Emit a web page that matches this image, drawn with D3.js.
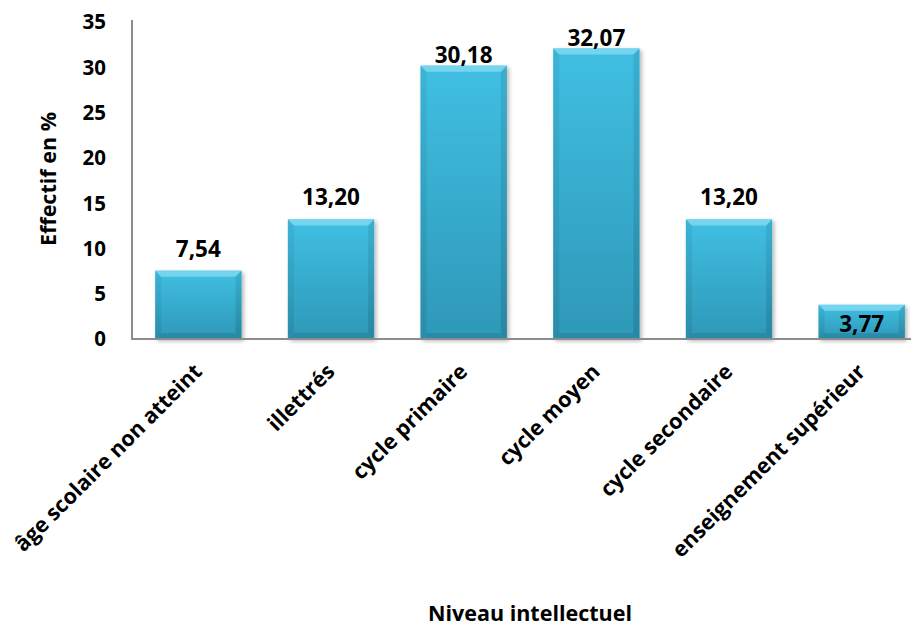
<!DOCTYPE html>
<html>
<head>
<meta charset="utf-8">
<script src="https://cdn.jsdelivr.net/npm/d3@7/dist/d3.min.js"></script>
<style>
  html, body { margin: 0; padding: 0; background: #fff; }
  svg { display: block; font-family: "Open Sans", sans-serif; font-weight: bold; }
</style>
</head>
<body>
<svg id="chart" width="914" height="626"></svg>
<script>
// Niveau intellectuel — effectif en %
const categories = [
  "âge scolaire non atteint",
  "illettrés",
  "cycle primaire",
  "cycle moyen",
  "cycle secondaire",
  "enseignement supérieur"
];
const values = [7.54, 13.20, 30.18, 32.07, 13.20, 3.77];
const yTicks = [0, 5, 10, 15, 20, 25, 30, 35];
const xTitle = "Niveau intellectuel";
const yTitle = "Effectif en %";

const svg = d3.select("#chart");
const W = 914, H = 626;
const margin = { left: 132, top: 22, bottom: 287 };
const plotRight = 928;

const x = d3.scaleBand()
  .domain(categories)
  .range([margin.left, plotRight])
  .paddingInner(0.35)
  .paddingOuter(0.175);

const y = d3.scaleLinear()
  .domain([0, 35])
  .range([H - margin.bottom, margin.top]);

const fmt = v => d3.format(".2f")(v).replace(".", ",");

// gradients for the bevelled bars
const defs = svg.append("defs");
const face = defs.append("linearGradient").attr("id", "face")
  .attr("x1", 0).attr("y1", 0).attr("x2", 0).attr("y2", 1);
face.append("stop").attr("offset", "0%").attr("stop-color", "#40bfe2");
face.append("stop").attr("offset", "100%").attr("stop-color", "#2e98b8");
const side = defs.append("linearGradient").attr("id", "side")
  .attr("x1", 0).attr("y1", 0).attr("x2", 0).attr("y2", 1);
side.append("stop").attr("offset", "0%").attr("stop-color", "#38aacb");
side.append("stop").attr("offset", "100%").attr("stop-color", "#26809b");
const shadow = defs.append("filter").attr("id", "shadow")
  .attr("x", "-20%").attr("y", "-20%").attr("width", "140%").attr("height", "140%");
shadow.append("feGaussianBlur").attr("in", "SourceAlpha").attr("stdDeviation", 2.2);
shadow.append("feOffset").attr("dx", 1.5).attr("dy", 1.5).attr("result", "b");
shadow.append("feComponentTransfer").append("feFuncA").attr("type", "linear").attr("slope", 0.3);
const merge = shadow.append("feMerge");
merge.append("feMergeNode");
merge.append("feMergeNode").attr("in", "SourceGraphic");

// bars
const bev = 6;
const bars = svg.append("g").selectAll("g.bar")
  .data(categories.map((c, i) => ({ c, v: values[i] })))
  .join("g").attr("class", "bar").attr("filter", "url(#shadow)");

bars.each(function(d) {
  const g = d3.select(this);
  const x0 = x(d.c), x1 = x0 + x.bandwidth();
  const y0 = y(d.v), y1 = y(0);
  g.append("rect").attr("x", x0).attr("y", y0).attr("width", x1 - x0).attr("height", y1 - y0)
    .attr("fill", "url(#face)");
  // left edge
  g.append("path").attr("d", `M${x0},${y0}L${x0 + bev},${y0 + bev}L${x0 + bev},${y1 - bev}L${x0},${y1}Z`)
    .attr("fill", "url(#side)").attr("opacity", 0.5);
  // right edge
  g.append("path").attr("d", `M${x1},${y0}L${x1 - bev},${y0 + bev}L${x1 - bev},${y1 - bev}L${x1},${y1}Z`)
    .attr("fill", "url(#side)").attr("opacity", 0.75);
  // bottom edge
  g.append("path").attr("d", `M${x0},${y1}L${x0 + bev},${y1 - bev}L${x1 - bev},${y1 - bev}L${x1},${y1}Z`)
    .attr("fill", "#267f99").attr("opacity", 0.55);
  // top bevel
  g.append("path").attr("d", `M${x0},${y0}L${x1},${y0}L${x1 - bev},${y0 + bev}L${x0 + bev},${y0 + bev}Z`)
    .attr("fill", "#74d4ee");
});

// value labels: above the bar, hugging the top of tall bars, inside very short ones
svg.append("g").selectAll("text")
  .data(categories.map((c, i) => ({ c, v: values[i] })))
  .join("text")
  .attr("x", d => x(d.c) + x.bandwidth() / 2)
  .attr("y", d => d.v > 25 ? y(d.v) - 3 : d.v < 5 ? y(d.v) + 27 : y(d.v) - 14)
  .attr("text-anchor", "middle")
  .attr("font-size", 22.5)
  .attr("fill", "#000")
  .text(d => fmt(d.v));

// axes
const axisColor = "#8c8c8c";
svg.append("line")
  .attr("x1", margin.left).attr("x2", margin.left)
  .attr("y1", y(35) - 2).attr("y2", y(0))
  .attr("stroke", axisColor).attr("stroke-width", 2);
svg.append("line")
  .attr("x1", margin.left - 1).attr("x2", W - 3)
  .attr("y1", y(0)).attr("y2", y(0))
  .attr("stroke", axisColor).attr("stroke-width", 2);

svg.append("g").selectAll("text")
  .data(yTicks)
  .join("text")
  .attr("x", 106)
  .attr("y", d => y(d))
  .attr("dy", "0.36em")
  .attr("text-anchor", "end")
  .attr("font-size", 20.5)
  .text(d => d);

// category labels
svg.append("g").selectAll("text")
  .data(categories)
  .join("text")
  .attr("transform", d => `translate(${x(d) + x.bandwidth() / 2 + 5},${y(0) + 34}) rotate(-45)`)
  .attr("text-anchor", "end")
  .attr("font-size", 21.5)
  .text(d => d);

// axis titles
svg.append("text")
  .attr("x", 530).attr("y", 621)
  .attr("text-anchor", "middle")
  .attr("font-size", 21.5)
  .text(xTitle);

svg.append("text")
  .attr("transform", `translate(56,179) rotate(-90)`)
  .attr("text-anchor", "middle")
  .attr("font-size", 21.5)
  .text(yTitle);
</script>
</body>
</html>
